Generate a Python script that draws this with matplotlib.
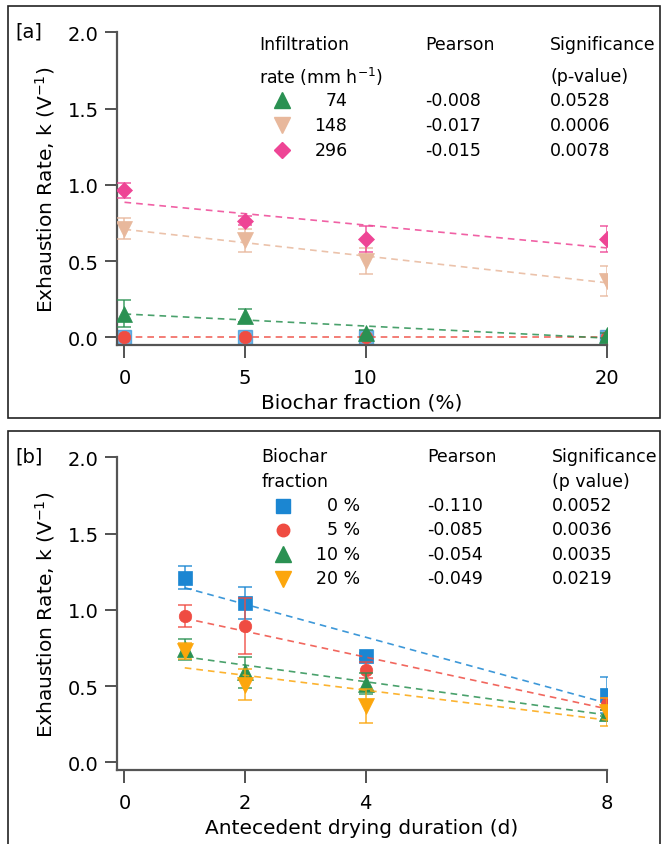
import numpy as np
import matplotlib
matplotlib.use('Agg')
import matplotlib.pyplot as plt
from matplotlib.patches import Rectangle
from matplotlib.lines import Line2D

plt.rcParams['font.family'] = ['DejaVu Sans']
plt.rcParams['mathtext.default'] = 'regular'

W, H = 662, 845

# ---------------- Panel a data ----------------
biochar_fraction = [0, 5, 10, 20]
rate_labels = ['74', '148', '296']
k_74 = [0.156, 0.142, 0.025, 0.012]
err_74 = [0.09, 0.044, 0.02, 0.015]
k_148 = [0.712, 0.637, 0.50, 0.37]
err_148 = [0.07, 0.075, 0.085, 0.10]
k_296 = [0.965, 0.765, 0.645, 0.643]
err_296 = [0.05, 0.03, 0.087, 0.086]
k_zero = [0.0, 0.0, 0.0, 0.0]
pearson_a = ['-0.008', '-0.017', '-0.015']
pvalue_a = ['0.0528', '0.0006', '0.0078']
xticks_a = [0, 5, 10, 20]

# ---------------- Panel b data ----------------
drying_days = [1, 2, 4, 8]
fraction_labels = ['0 %', '5 %', '10 %', '20 %']
k_0pct = [1.21, 1.044, 0.695, 0.441]
err_0pct = [0.074, 0.104, 0.02, 0.12]
k_5pct = [0.961, 0.896, 0.605, 0.382]
err_5pct = [0.072, 0.183, 0.05, 0.04]
k_10pct = [0.74, 0.59, 0.515, 0.323]
err_10pct = [0.068, 0.10, 0.07, 0.02]
k_20pct = [0.73, 0.51, 0.37, 0.33]
err_20pct = [0.05, 0.10, 0.11, 0.09]
pearson_b = ['-0.110', '-0.085', '-0.054', '-0.049']
pvalue_b = ['0.0052', '0.0036', '0.0035', '0.0219']
xticks_b = [0, 2, 4, 8]
yticks = [0.0, 0.5, 1.0, 1.5, 2.0]

# colours
BLUE = '#1b86d2'
RED = '#ef4c42'
GREEN = '#2a9152'
ORANGE = '#fca60c'
PINK = '#ee4595'
TAN = '#e8b89c'

fig = plt.figure(figsize=(W / 100, H / 100), dpi=100)


def fx(x):
    return x / W


def fy(y):
    return 1 - y / H


def make_axes(top, bottom):
    left, right = 117, 606.7
    ax = fig.add_axes([fx(left), fy(bottom), (right - left) / W, (bottom - top) / H])
    for s in ['top', 'right']:
        ax.spines[s].set_visible(False)
    for s in ['left', 'bottom']:
        ax.spines[s].set_color('#555555')
        ax.spines[s].set_linewidth(1.6)
    ax.tick_params(direction='out', length=9, width=1.3, color='#444444',
                   labelsize=14, pad=4)
    ax.tick_params(axis='x', pad=8)
    ax.set_ylim(-0.0485, 2.0)
    ax.set_yticks(yticks)
    ax.set_yticklabels([f'{v:.1f}' for v in yticks])
    ax.set_ylabel('Exhaustion Rate, k (V$^{-1}$)', fontsize=14.5, labelpad=8)
    ax.patch.set_alpha(0)
    return ax


def series(ax, x, y, err, color, marker, ms, z):
    x = np.asarray(x, float)
    y = np.asarray(y, float)
    if err is not None:
        ax.errorbar(x, y, yerr=err, fmt='none', ecolor=color, alpha=0.75,
                    elinewidth=1.3, capsize=5, capthick=1.3, zorder=z)
    slope, icpt = np.polyfit(x, y, 1)
    xs = np.array([x.min(), x.max()])
    ax.plot(xs, icpt + slope * xs, ls=(0, (4, 3)), color=color, lw=1.2,
            alpha=0.85, zorder=z + 0.5)
    ax.plot(x, y, ls='none', marker=marker, ms=ms, color=color, mec=color,
            mew=0.5, zorder=z + 1)


def legend_marker(x, y, color, marker, ms):
    fig.add_artist(Line2D([fx(x)], [fy(y)], marker=marker, ms=ms, color=color,
                          mec=color, ls='none', transform=fig.transFigure))


def ftext(x, y, s, ha='left', size=12.5):
    fig.text(fx(x), fy(y), s, ha=ha, va='center', fontsize=size, color='black')


# ---------------- Panel a ----------------
axa = make_axes(33.3, 345.7)
axa.set_xlim(-0.311, 20.0)
axa.set_xticks(xticks_a)
axa.set_xlabel('Biochar fraction (%)', fontsize=14.5, labelpad=4)

xa = np.array(biochar_fraction)
axa.plot(xa, k_zero, ls='none', marker='s', ms=9.5, color=BLUE, alpha=0.6, zorder=2)
series(axa, xa, k_zero, None, RED, 'o', 9, 3)
series(axa, xa, k_74, err_74, GREEN, '^', 11, 5)
series(axa, xa, k_148, err_148, TAN, 'v', 11, 7)
series(axa, xa, k_296, err_296, PINK, 'D', 8, 9)

# ---------------- Panel b ----------------
axb = make_axes(458.3, 770.7)
axb.set_xlim(-0.124, 8.0)
axb.set_xticks(xticks_b)
axb.set_xlabel('Antecedent drying duration (d)', fontsize=14.5, labelpad=4)

xb = np.array(drying_days)
series(axb, xb, k_0pct, err_0pct, BLUE, 's', 9.5, 2)
series(axb, xb, k_5pct, err_5pct, RED, 'o', 9, 4)
series(axb, xb, k_10pct, err_10pct, GREEN, '^', 11, 6)
series(axb, xb, k_20pct, err_20pct, ORANGE, 'v', 11, 8)

# ---------------- Panel frames and labels ----------------
fig.add_artist(Rectangle((fx(8.3), fy(418.5)), fx(660 - 8.3), (418.5 - 7.3) / H,
                         transform=fig.transFigure, fill=False, ec='#222222', lw=1.2))
fig.add_artist(Rectangle((fx(8.3), fy(860)), fx(660 - 8.3), (860 - 432.3) / H,
                         transform=fig.transFigure, fill=False, ec='#222222', lw=1.2))
ftext(15, 31.5, '[a]', size=14)
ftext(15, 457.5, '[b]', size=14)

# ---------------- Panel a legend table ----------------
ftext(259, 45, 'Infiltration')
ftext(259, 76.7, 'rate (mm h$^{-1}$)')
ftext(425, 45, 'Pearson')
ftext(550, 45, 'Significance')
ftext(550, 76.7, '(p-value)')
rows_a = [101, 126.3, 150.5]
styles_a = [(GREEN, '^', 11), (TAN, 'v', 11), (PINK, 'D', 8)]
for yy, lab, (c, m, s), pr, pv in zip(rows_a, rate_labels, styles_a, pearson_a, pvalue_a):
    legend_marker(282.3, yy, c, m, s)
    ftext(347.5, yy, lab, ha='right')
    ftext(425, yy, pr)
    ftext(550, yy, pv)

# ---------------- Panel b legend table ----------------
ftext(261.5, 456.7, 'Biochar')
ftext(261.5, 481.7, 'fraction')
ftext(427, 456.7, 'Pearson')
ftext(552, 456.7, 'Significance')
ftext(552, 481.7, '(p value)')
rows_b = [506.5, 530.5, 555, 579.5]
styles_b = [(BLUE, 's', 9.5), (RED, 'o', 9), (GREEN, '^', 11), (ORANGE, 'v', 11)]
for yy, lab, (c, m, s), pr, pv in zip(rows_b, fraction_labels, styles_b, pearson_b, pvalue_b):
    legend_marker(283.3, yy, c, m, s)
    ftext(360, yy, lab, ha='right')
    ftext(427, yy, pr)
    ftext(552, yy, pv)

fig.savefig('out.png', dpi=100)
